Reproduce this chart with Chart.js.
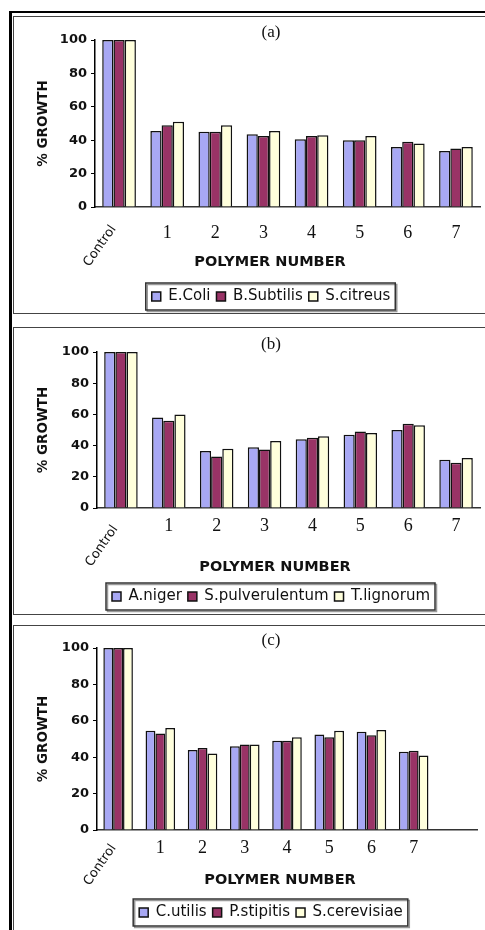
<!DOCTYPE html>
<html>
<head>
<meta charset="utf-8">
<script src="https://cdn.jsdelivr.net/npm/chart.js@4.4.1/dist/chart.umd.min.js"></script>
<style>
  html, body { margin: 0; padding: 0; background: #fff; }
  body { width: 485px; height: 930px; position: relative; overflow: hidden; }
  .linea { position: absolute; background: #000; }
  .caja { position: absolute; left: 13px; width: 490px; border: 1.5px solid #444; box-sizing: border-box; }
  canvas { position: absolute; left: 13px; }
</style>
</head>
<body>
<div class="linea" style="left:9px;top:11px;width:3px;height:919px"></div>
<div class="linea" style="left:9px;top:11px;width:476px;height:2px"></div>
<div class="caja" style="top:16px;height:298px"></div>
<div class="caja" style="top:327px;height:288px"></div>
<div class="caja" style="top:625px;height:320px"></div>

<canvas id="chartA" width="516" height="300" style="top:14px"></canvas>
<canvas id="chartB" width="516" height="288" style="top:326px"></canvas>
<canvas id="chartC" width="516" height="308" style="top:622px"></canvas>

<script>
// categories
const categoriasAB = ["Control", "1", "2", "3", "4", "5", "6", "7"];
const categoriasC = ["Control", "1", "2", "3", "4", "5", "6", "7", ""];

// (a) bacteria
const eColi = [100, 45.5, 45, 43.5, 40.5, 40, 36, 33.5];
const bSubtilis = [100, 49, 45, 42.5, 42.5, 40, 39, 35];
const sCitreus = [100, 51, 49, 45.5, 43, 42.5, 38, 36];

// (b) fungi
const aNiger = [100, 58, 36.5, 39, 44, 47, 50, 31];
const sPulverulentum = [100, 56, 33, 37.5, 45, 49, 54, 29];
const tLignorum = [100, 60, 38, 43, 46, 48, 53, 32];

// (c) yeasts
const cUtilis = [100, 54.5, 44, 46, 49, 52.5, 54, 43];
const pStipitis = [100, 53, 45, 47, 49, 51, 52, 43.5];
const sCerevisiae = [100, 56, 42, 47, 51, 54.5, 55, 41];

const yMin = 0, yMax = 100, yPaso = 20;

const colores = ["#a8a8f4", "#993366", "#ffffdc"];

Chart.defaults.font.family = '"DejaVu Sans", sans-serif';
Chart.defaults.color = "#111";

// category labels: "Control" rotated, numbers in serif, plus axis title
const etiquetasX = {
  id: "etiquetasX",
  afterDraw(chart, args, opts) {
    const ctx = chart.ctx;
    const x = chart.scales.x;
    const base = chart.chartArea.bottom;
    ctx.save();
    ctx.fillStyle = "#111";
    ctx.textAlign = "center";
    ctx.textBaseline = "middle";
    x.getLabels().forEach((lab, i) => {
      if (!lab) return;
      const px = x.getPixelForValue(i);
      if (lab === "Control") {
        ctx.save();
        ctx.translate(px + opts.ctlDx, base + opts.ctlDy);
        ctx.rotate(-55 * Math.PI / 180);
        ctx.font = '13px "DejaVu Sans"';
        ctx.fillText(lab, 0, 0);
        ctx.restore();
      } else {
        ctx.font = '18px "Liberation Serif"';
        ctx.fillText(lab, px, base + opts.numDy);
      }
    });
    ctx.font = 'bold 14.5px "DejaVu Sans"';
    ctx.fillText("POLYMER NUMBER", opts.tituloX, base + opts.tituloDy);
    ctx.restore();
  }
};

// box around the legend
const marcoLeyenda = {
  id: "marcoLeyenda",
  afterDraw(chart) {
    const cajas = chart.legend.legendHitBoxes;
    if (!cajas || !cajas.length) return;
    const ctx = chart.ctx;
    const l = Math.min(...cajas.map(b => b.left)) - 6;
    const r = Math.max(...cajas.map(b => b.left + b.width)) + 5;
    const t = cajas[0].top - 6;
    const b = cajas[0].top + cajas[0].height + 6;
    ctx.save();
    ctx.strokeStyle = "#999";
    ctx.lineWidth = 1.5;
    ctx.strokeRect(l + 1.5, t + 1.5, r - l, b - t);
    ctx.strokeStyle = "#333";
    ctx.strokeRect(l, t, r - l, b - t);
    ctx.restore();
  }
};

function crearGrafica(id, cfg) {
  const datasets = cfg.series.map((s, i) => ({
    label: cfg.nombres[i],
    data: s,
    backgroundColor: colores[i],
    borderColor: "#111",
    borderWidth: 1.5,
    categoryPercentage: 0.7,
    barPercentage: 1.0
  }));

  new Chart(document.getElementById(id), {
    type: "bar",
    data: { labels: cfg.categorias, datasets },
    plugins: [etiquetasX, marcoLeyenda],
    options: {
      responsive: false,
      animation: false,
      devicePixelRatio: 1,
      layout: { padding: 0 },
      plugins: {
        title: {
          display: true,
          text: cfg.titulo,
          color: "#111",
          font: { family: '"Liberation Serif", serif', size: 17, weight: "normal", lineHeight: 1 },
          padding: { top: 10, bottom: -1 }
        },
        legend: {
          position: "bottom",
          labels: {
            boxWidth: 9,
            boxHeight: 9,
            padding: 6,
            color: "#111",
            font: { size: 15 }
          }
        },
        tooltip: { enabled: false },
        etiquetasX: cfg.etiquetas
      },
      scales: {
        x: {
          ticks: { display: false },
          grid: { display: false },
          border: { display: true, color: "#333", width: 1.5 },
          afterFit: s => { s.height = cfg.altoX; }
        },
        y: {
          min: yMin,
          max: yMax,
          ticks: { stepSize: yPaso, padding: 4, color: "#111", font: { size: 13, weight: "bold" } },
          grid: { drawOnChartArea: false, drawTicks: true, tickLength: 4, color: "#000" },
          border: { display: true, color: "#000", width: 1.5 },
          title: {
            display: true,
            text: "% GROWTH",
            color: "#111",
            font: { size: 13.5, weight: "bold" },
            padding: { top: 22, bottom: 0 }
          },
          afterFit: s => { s.width = cfg.anchoY; }
        },
        yr: {
          position: "right",
          ticks: { display: false },
          grid: { display: false },
          border: { display: false },
          afterFit: s => { s.width = cfg.anchoDer; }
        }
      }
    }
  });
}

crearGrafica("chartA", {
  titulo: "(a)",
  categorias: categoriasAB,
  series: [eColi, bSubtilis, sCitreus],
  nombres: ["E.Coli", "B.Subtilis", "S.citreus"],
  altoX: 76, anchoY: 82, anchoDer: 49,
  etiquetas: { ctlDx: -19, ctlDy: 39, numDy: 26, tituloX: 257, tituloDy: 55 }
});

crearGrafica("chartB", {
  titulo: "(b)",
  categorias: categoriasAB,
  series: [aNiger, sPulverulentum, tLignorum],
  nombres: ["A.niger", "S.pulverulentum", "T.lignorum"],
  altoX: 75, anchoY: 84, anchoDer: 49,
  etiquetas: { ctlDx: -19, ctlDy: 38, numDy: 18, tituloX: 262, tituloDy: 59 }
});

crearGrafica("chartC", {
  titulo: "(c)",
  categorias: categoriasC,
  series: [cUtilis, pStipitis, sCerevisiae],
  nombres: ["C.utilis", "P.stipitis", "S.cerevisiae"],
  altoX: 69, anchoY: 84, anchoDer: 52,
  etiquetas: { ctlDx: -18, ctlDy: 35, numDy: 18, tituloX: 267, tituloDy: 50 }
});
</script>
</body>
</html>
